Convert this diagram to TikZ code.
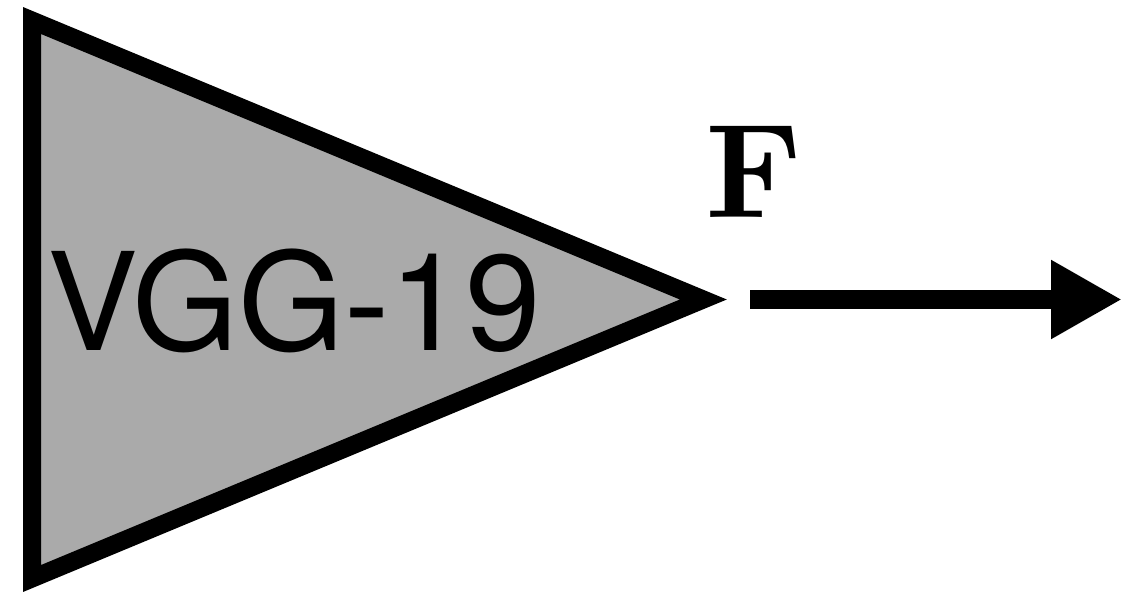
\documentclass[tikz,border=0pt]{standalone}
\usepackage{fontspec}
\setsansfont{TeX Gyre Heros}
\newfontfamily\featfont{lmroman10-bold}[Extension=.otf]
\usetikzlibrary{arrows.meta}
\definecolor{boxgray}{HTML}{AAAAAA}
\tikzset{
  netshape/.style={draw=black, fill=boxgray, line width=18pt, line join=miter},
  netlabel/.style={font=\sffamily\fontsize{136}{136}\selectfont, inner sep=0pt, anchor=base},
  featlabel/.style={font=\featfont\fontsize{134}{134}\selectfont, inner sep=0pt, anchor=base},
  featarrow/.style={line width=19pt, -{Triangle[length=71pt,width=74pt]}}
}
\begin{document}
\begin{tikzpicture}[x=1pt,y=-1pt]
\useasboundingbox (0,0) rectangle (1123,596);
\coordinate (tl) at (32,20.5);
\coordinate (bl) at (32,578.5);
\coordinate (tip) at (703.3,299.5);
\draw[netshape] (tl) -- (tip) -- (bl) -- cycle;
\node[netlabel] (vgg) at (294,350) {VGG-19};
\coordinate (astart) at (750,299.5);
\coordinate (aend) at (1122,299.5);
\draw[featarrow] (astart) -- (aend);
\node[featlabel] (F) at (754,217) {F};
\end{tikzpicture}
\end{document}
